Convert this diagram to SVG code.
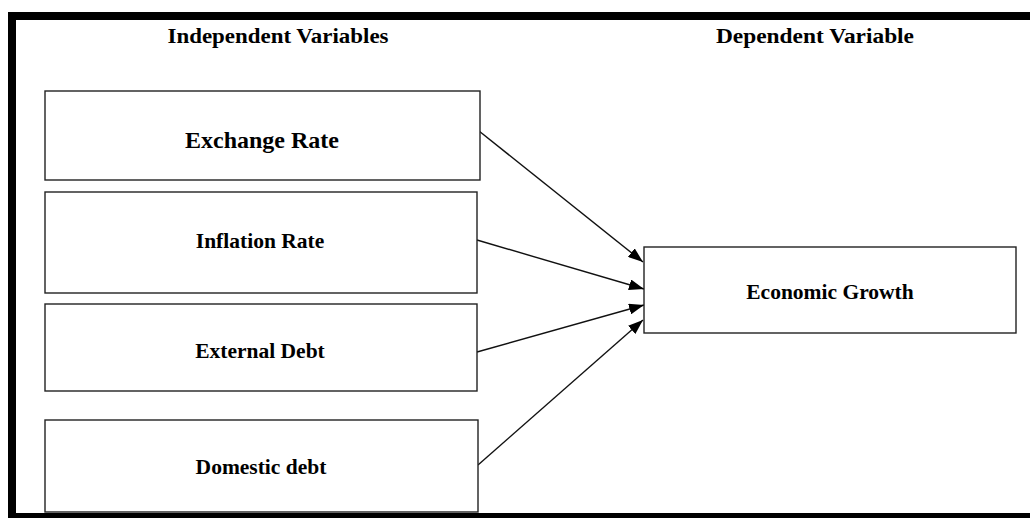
<svg xmlns="http://www.w3.org/2000/svg" width="1030" height="518" viewBox="0 0 1030 518">
<style>
.frame{fill:#000}
.box{fill:#fff;stroke:#222;stroke-width:1.4}
.lbl{font-family:"Liberation Serif","Times New Roman",serif;font-weight:bold;fill:#000;text-anchor:middle}
.hdr{font-family:"Liberation Serif","Times New Roman",serif;font-weight:bold;font-size:22px;fill:#000;text-anchor:middle}
.conn{stroke:#111;stroke-width:1.4;fill:none;marker-end:url(#ah)}
</style>
<defs>
<marker id="ah" viewBox="0 0 15 11" refX="15" refY="5.5" markerWidth="15" markerHeight="11" markerUnits="userSpaceOnUse" orient="auto">
<path d="M0,0 L15,5.5 L0,11 Z" fill="#000"/>
</marker>
</defs>
<rect width="1030" height="518" fill="#fff"/>
<g id="frame">
<rect class="frame" x="8" y="12" width="1022" height="8"/>
<rect class="frame" x="8" y="12" width="8" height="506"/>
<rect class="frame" x="8" y="513" width="1022" height="5"/>
</g>
<text class="hdr" x="278" y="43" textLength="221" lengthAdjust="spacingAndGlyphs">Independent Variables</text>
<text class="hdr" x="815" y="43" textLength="198" lengthAdjust="spacingAndGlyphs">Dependent Variable</text>
<g id="connectors">
<line class="conn" x1="479" y1="131" x2="643" y2="262"/>
<line class="conn" x1="477" y1="240" x2="644" y2="289"/>
<line class="conn" x1="477" y1="352" x2="644" y2="305"/>
<line class="conn" x1="478" y1="465" x2="643" y2="320"/>
</g>
<g id="node-exchange">
<rect class="box" x="45" y="91" width="435" height="89"/>
<text class="lbl" x="262" y="148" font-size="24">Exchange Rate</text>
</g>
<g id="node-inflation">
<rect class="box" x="45" y="192" width="432" height="101"/>
<text class="lbl" x="260" y="248" font-size="21.5">Inflation Rate</text>
</g>
<g id="node-external">
<rect class="box" x="45" y="304" width="432" height="87"/>
<text class="lbl" x="260" y="358" font-size="21.5">External Debt</text>
</g>
<g id="node-domestic">
<rect class="box" x="45" y="420" width="433" height="92"/>
<text class="lbl" x="261" y="474" font-size="21.5">Domestic debt</text>
</g>
<g id="node-growth">
<rect class="box" x="644" y="247" width="372" height="86"/>
<text class="lbl" x="830" y="299" font-size="21.5">Economic Growth</text>
</g>
</svg>
